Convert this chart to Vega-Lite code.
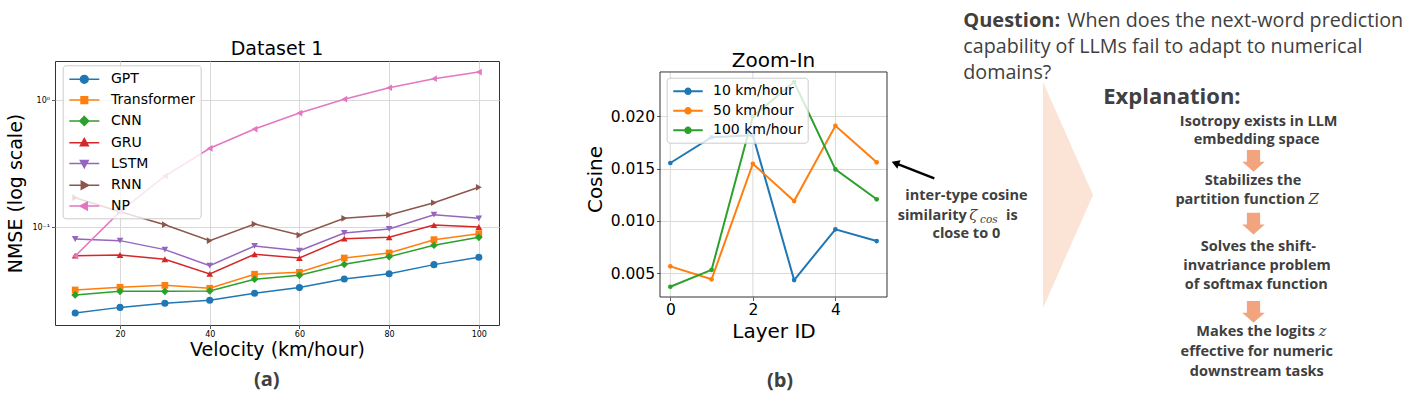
{
  "$schema": "https://vega.github.io/schema/vega-lite/v6.json",
  "padding": 0,
  "background": "white",
  "bounds": "flush",
  "spacing": 161,
  "resolve": {"scale": {"color": "independent"}, "legend": {"color": "independent"}},
  "config": {
    "font": "DejaVu Sans",
    "view": {"stroke": "#333333", "strokeWidth": 1},
    "axis": {"labelFont": "DejaVu Sans", "titleFont": "DejaVu Sans", "labelColor": "#000000", "titleColor": "#000000", "titleFontWeight": "normal", "tickColor": "#333333", "tickWidth": 0.8, "tickSize": 3.5, "domain": false, "gridColor": "#d9d9d9", "gridWidth": 1},
    "legend": {"labelFont": "DejaVu Sans", "labelColor": "#000000"},
    "title": {"font": "DejaVu Sans", "fontWeight": "normal", "color": "#000000"}
  },
  "hconcat": [
    {
      "width": 444,
      "height": 264,
      "title": {"text": "Dataset 1", "fontSize": 19, "frame": "group", "baseline": "alphabetic", "offset": -13},
      "data": {"values": [
        {"m": "GPT", "v": 10, "n": 0.0211}, {"m": "GPT", "v": 20, "n": 0.0234}, {"m": "GPT", "v": 30, "n": 0.0252}, {"m": "GPT", "v": 40, "n": 0.0266}, {"m": "GPT", "v": 50, "n": 0.0302}, {"m": "GPT", "v": 60, "n": 0.0335}, {"m": "GPT", "v": 70, "n": 0.0392}, {"m": "GPT", "v": 80, "n": 0.0431}, {"m": "GPT", "v": 90, "n": 0.0508}, {"m": "GPT", "v": 100, "n": 0.0581},
        {"m": "Transformer", "v": 10, "n": 0.0321}, {"m": "Transformer", "v": 20, "n": 0.0337}, {"m": "Transformer", "v": 30, "n": 0.0349}, {"m": "Transformer", "v": 40, "n": 0.0331}, {"m": "Transformer", "v": 50, "n": 0.0427}, {"m": "Transformer", "v": 60, "n": 0.0442}, {"m": "Transformer", "v": 70, "n": 0.0573}, {"m": "Transformer", "v": 80, "n": 0.0628}, {"m": "Transformer", "v": 90, "n": 0.0799}, {"m": "Transformer", "v": 100, "n": 0.0891},
        {"m": "CNN", "v": 10, "n": 0.0293}, {"m": "CNN", "v": 20, "n": 0.0313}, {"m": "CNN", "v": 30, "n": 0.0313}, {"m": "CNN", "v": 40, "n": 0.0315}, {"m": "CNN", "v": 50, "n": 0.039}, {"m": "CNN", "v": 60, "n": 0.0419}, {"m": "CNN", "v": 70, "n": 0.0511}, {"m": "CNN", "v": 80, "n": 0.0587}, {"m": "CNN", "v": 90, "n": 0.0722}, {"m": "CNN", "v": 100, "n": 0.0834},
        {"m": "GRU", "v": 10, "n": 0.0598}, {"m": "GRU", "v": 20, "n": 0.0605}, {"m": "GRU", "v": 30, "n": 0.056}, {"m": "GRU", "v": 40, "n": 0.0429}, {"m": "GRU", "v": 50, "n": 0.0613}, {"m": "GRU", "v": 60, "n": 0.0573}, {"m": "GRU", "v": 70, "n": 0.0813}, {"m": "GRU", "v": 80, "n": 0.0834}, {"m": "GRU", "v": 90, "n": 0.104}, {"m": "GRU", "v": 100, "n": 0.1005},
        {"m": "LSTM", "v": 10, "n": 0.0809}, {"m": "LSTM", "v": 20, "n": 0.0785}, {"m": "LSTM", "v": 30, "n": 0.0667}, {"m": "LSTM", "v": 40, "n": 0.0499}, {"m": "LSTM", "v": 50, "n": 0.0713}, {"m": "LSTM", "v": 60, "n": 0.0654}, {"m": "LSTM", "v": 70, "n": 0.0902}, {"m": "LSTM", "v": 80, "n": 0.097}, {"m": "LSTM", "v": 90, "n": 0.1257}, {"m": "LSTM", "v": 100, "n": 0.1177},
        {"m": "RNN", "v": 10, "n": 0.171}, {"m": "RNN", "v": 20, "n": 0.1327}, {"m": "RNN", "v": 30, "n": 0.1048}, {"m": "RNN", "v": 40, "n": 0.0785}, {"m": "RNN", "v": 50, "n": 0.106}, {"m": "RNN", "v": 60, "n": 0.0869}, {"m": "RNN", "v": 70, "n": 0.1177}, {"m": "RNN", "v": 80, "n": 0.125}, {"m": "RNN", "v": 90, "n": 0.156}, {"m": "RNN", "v": 100, "n": 0.2065},
        {"m": "NP", "v": 10, "n": 0.0594}, {"m": "NP", "v": 20, "n": 0.1327}, {"m": "NP", "v": 30, "n": 0.2535}, {"m": "NP", "v": 40, "n": 0.419}, {"m": "NP", "v": 50, "n": 0.594}, {"m": "NP", "v": 60, "n": 0.794}, {"m": "NP", "v": 70, "n": 1.02}, {"m": "NP", "v": 80, "n": 1.256}, {"m": "NP", "v": 90, "n": 1.48}, {"m": "NP", "v": 100, "n": 1.67}
      ]},
      "encoding": {
        "x": {"field": "v", "type": "quantitative", "scale": {"domain": [5.5, 104.5], "nice": false, "zero": false},
          "axis": {"values": [20, 40, 60, 80, 100], "title": "Velocity (km/hour)", "titleFontSize": 19, "labelFontSize": 8, "labelPadding": 2, "titlePadding": 2, "grid": true}},
        "y": {"field": "n", "type": "quantitative", "scale": {"type": "log", "domain": [0.017, 2.04], "nice": false},
          "axis": {"values": [0.1, 1], "labelExpr": "datum.value >= 1 ? '10⁰' : '10⁻¹'", "title": "NMSE (log scale)", "titleFontSize": 19, "labelFontSize": 8, "labelPadding": 2, "titlePadding": 6, "grid": true}},
        "color": {"field": "m", "type": "nominal",
          "scale": {"domain": ["GPT", "Transformer", "CNN", "GRU", "LSTM", "RNN", "NP"], "range": ["#1f77b4", "#ff7f0e", "#2ca02c", "#d62728", "#9467bd", "#8c564b", "#e377c2"]},
          "legend": {"orient": "none", "legendX": 7.7, "legendY": 4.3, "title": null, "fillColor": "rgba(255,255,255,0.8)", "strokeColor": "#cccccc", "cornerRadius": 3, "padding": 5, "labelFontSize": 14, "symbolSize": 256, "symbolOffset": 7.6, "symbolStrokeWidth": 1.5, "symbolOpacity": 1, "labelOffset": 17.7, "rowPadding": 4.8,
            "encode": {"symbols": {"update": {
              "shape": {"signal": "datum.value == 'GPT' ? 'M-1.875,0H1.875M0.49,0A0.49,0.49,0,1,1,-0.49,0A0.49,0.49,0,1,1,0.49,0Z' : datum.value == 'Transformer' ? 'M-1.875,0H1.875M-0.41,-0.41H0.41V0.41H-0.41Z' : datum.value == 'CNN' ? 'M-1.875,0H1.875M0,-0.56L0.56,0L0,0.56L-0.56,0Z' : datum.value == 'GRU' ? 'M-1.875,0H1.875M0,-0.525L0.49,0.375L-0.49,0.375Z' : datum.value == 'LSTM' ? 'M-1.875,0H1.875M0,0.525L0.49,-0.375L-0.49,-0.375Z' : datum.value == 'RNN' ? 'M-1.875,0H1.875M0.525,0L-0.375,0.49L-0.375,-0.49Z' : 'M-1.875,0H1.875M-0.525,0L0.375,0.49L0.375,-0.49Z'"},
              "fill": {"signal": "datum.value == 'GPT' ? '#1f77b4' : datum.value == 'Transformer' ? '#ff7f0e' : datum.value == 'CNN' ? '#2ca02c' : datum.value == 'GRU' ? '#d62728' : datum.value == 'LSTM' ? '#9467bd' : datum.value == 'RNN' ? '#8c564b' : '#e377c2'"},
              "stroke": {"signal": "datum.value == 'GPT' ? '#1f77b4' : datum.value == 'Transformer' ? '#ff7f0e' : datum.value == 'CNN' ? '#2ca02c' : datum.value == 'GRU' ? '#d62728' : datum.value == 'LSTM' ? '#9467bd' : datum.value == 'RNN' ? '#8c564b' : '#e377c2'"},
              "strokeWidth": {"value": 1.5},
              "opacity": {"value": 1}
            }}}}}
      },
      "layer": [
        {"mark": {"type": "line", "strokeWidth": 1.5}},
        {"transform": [{"filter": "datum.m == 'GPT'"}], "mark": {"type": "point", "shape": "circle", "filled": true, "opacity": 1, "size": 50}},
        {"transform": [{"filter": "datum.m == 'Transformer'"}], "mark": {"type": "point", "shape": "square", "filled": true, "opacity": 1, "size": 45}},
        {"transform": [{"filter": "datum.m == 'CNN'"}], "mark": {"type": "point", "shape": "diamond", "filled": true, "opacity": 1, "size": 60}},
        {"transform": [{"filter": "datum.m == 'GRU'"}], "mark": {"type": "point", "shape": "triangle-up", "filled": true, "opacity": 1, "size": 45}},
        {"transform": [{"filter": "datum.m == 'LSTM'"}], "mark": {"type": "point", "shape": "triangle-down", "filled": true, "opacity": 1, "size": 45}},
        {"transform": [{"filter": "datum.m == 'RNN'"}], "mark": {"type": "point", "shape": "triangle-right", "filled": true, "opacity": 1, "size": 45}},
        {"transform": [{"filter": "datum.m == 'NP'"}], "mark": {"type": "point", "shape": "triangle-left", "filled": true, "opacity": 1, "size": 45}}
      ]
    },
    {
      "width": 227,
      "height": 236,
      "view": {"stroke": null},
      "title": {"text": "Zoom-In", "fontSize": 20, "frame": "group", "baseline": "alphabetic", "offset": -26},
      "layer": [
        {
          "data": {"values": [{"l": 0}, {"l": 2}, {"l": 4}]},
          "mark": {"type": "rule", "color": "#d9d9d9", "strokeWidth": 1},
          "encoding": {
            "x": {"field": "l", "type": "quantitative", "title": "Layer ID"},
            "y": {"datum": 0.00273, "type": "quantitative", "title": "Cosine"},
            "y2": {"datum": 0.02424}
          }
        },
        {
          "data": {"values": [{}]},
          "mark": {"type": "rect", "filled": false, "stroke": "#333333", "strokeWidth": 1},
          "encoding": {
            "x": {"datum": -0.25, "type": "quantitative", "title": "Layer ID"},
            "x2": {"datum": 5.25},
            "y": {"datum": 0.00273, "type": "quantitative", "title": "Cosine"},
            "y2": {"datum": 0.02424}
          }
        },
        {
          "data": {"values": [
            {"s": "10 km/hour", "l": 0, "c": 0.01554}, {"s": "10 km/hour", "l": 1, "c": 0.0180}, {"s": "10 km/hour", "l": 2, "c": 0.0182}, {"s": "10 km/hour", "l": 3, "c": 0.00435}, {"s": "10 km/hour", "l": 4, "c": 0.0092}, {"s": "10 km/hour", "l": 5, "c": 0.00808},
            {"s": "50 km/hour", "l": 0, "c": 0.00566}, {"s": "50 km/hour", "l": 1, "c": 0.00442}, {"s": "50 km/hour", "l": 2, "c": 0.01547}, {"s": "50 km/hour", "l": 3, "c": 0.0119}, {"s": "50 km/hour", "l": 4, "c": 0.0191}, {"s": "50 km/hour", "l": 5, "c": 0.0156},
            {"s": "100 km/hour", "l": 0, "c": 0.00371}, {"s": "100 km/hour", "l": 1, "c": 0.00533}, {"s": "100 km/hour", "l": 2, "c": 0.0200}, {"s": "100 km/hour", "l": 3, "c": 0.02328}, {"s": "100 km/hour", "l": 4, "c": 0.01493}, {"s": "100 km/hour", "l": 5, "c": 0.01207}
          ]},
          "encoding": {
            "x": {"field": "l", "type": "quantitative", "title": "Layer ID", "scale": {"domain": [-0.25, 5.25], "nice": false, "zero": false},
              "axis": {"values": [0, 2, 4], "titleFontSize": 20, "labelFontSize": 15.5, "labelPadding": 2, "titlePadding": 3, "grid": false}},
            "y": {"field": "c", "type": "quantitative", "title": "Cosine", "scale": {"domain": [0.00273, 0.02529], "nice": false, "zero": false},
              "axis": {"values": [0.005, 0.01, 0.015, 0.02], "format": ".3f", "titleFontSize": 20, "labelFontSize": 15.5, "labelPadding": 2, "titlePadding": 5, "grid": true}},
            "color": {"field": "s", "type": "nominal",
              "scale": {"domain": ["10 km/hour", "50 km/hour", "100 km/hour"], "range": ["#1f77b4", "#ff7f0e", "#2ca02c"]},
              "legend": {"orient": "none", "legendX": 6.7, "legendY": 16.7, "title": null, "fillColor": "rgba(255,255,255,0.8)", "strokeColor": "#cccccc", "cornerRadius": 3, "padding": 4.6, "labelFontSize": 14, "symbolSize": 256, "symbolOffset": 7.7, "symbolStrokeWidth": 2, "symbolOpacity": 1, "labelOffset": 16, "rowPadding": 3.5,
                "encode": {"symbols": {"update": {
                  "shape": {"value": "M-1.84,0H1.84M0.34,0A0.34,0.34,0,1,1,-0.34,0A0.34,0.34,0,1,1,0.34,0Z"},
                  "fill": {"signal": "datum.value == '10 km/hour' ? '#1f77b4' : datum.value == '50 km/hour' ? '#ff7f0e' : '#2ca02c'"},
                  "stroke": {"signal": "datum.value == '10 km/hour' ? '#1f77b4' : datum.value == '50 km/hour' ? '#ff7f0e' : '#2ca02c'"},
                  "strokeWidth": {"value": 2},
                  "opacity": {"value": 1}
                }}}}}
          },
          "layer": [
            {"mark": {"type": "line", "strokeWidth": 2}},
            {"mark": {"type": "point", "filled": true, "opacity": 1, "size": 22}}
          ]
        }
      ]
    },
    {
      "width": 364,
      "height": 333,
      "view": {"stroke": null},
      "encoding": {
        "x": {"field": "x", "type": "quantitative", "scale": {"domain": [1048, 1412], "nice": false, "zero": false}, "axis": null},
        "y": {"field": "y", "type": "quantitative", "scale": {"domain": [61, 394], "nice": false, "zero": false, "reverse": true}, "axis": null}
      },
      "layer": [
        {
          "data": {"values": [{"x": 0, "y": 0, "x2": 1412, "y2": 394}]},
          "mark": {"type": "rect", "opacity": 0},
          "encoding": {"x2": {"field": "x2"}, "y2": {"field": "y2"}}
        },
        {
          "data": {"values": [{"x": 1043, "y": 82, "y2": 308}, {"x": 1093, "y": 195, "y2": 195}]},
          "mark": {"type": "area", "orient": "vertical", "color": "#fbe3d5"},
          "encoding": {"y2": {"field": "y2"}}
        },
        {
          "data": {"values": [{"i": 0, "x": 510.7, "y": 186.7, "y2": 201.7}, {"i": 1, "x": 548, "y": 186.7, "y2": 201.7}, {"i": 2, "x": 548, "y": 179.3, "y2": 209.3}, {"i": 3, "x": 563.3, "y": 194.5, "y2": 194.5}]},
          "mark": {"type": "area", "orient": "vertical", "color": "#808080"},
          "encoding": {"y2": {"field": "y2"}, "order": {"field": "i", "type": "quantitative"}}
        },
        {
          "data": {"values": [{"x": 1253.5, "y": 160.85}, {"x": 1253.5, "y": 223.55}, {"x": 1253.5, "y": 311.85}]},
          "mark": {"type": "point", "shape": "M-0.61,-1H0.61V0.08H1.04L0,1L-1.04,0.08H-0.61Z", "filled": true, "color": "#f2a47f", "opacity": 1, "size": 471, "strokeWidth": 0}
        },
        {
          "data": {"values": [{"x": 934.3, "y": 178.3, "x2": 895.3, "y2": 163.1}]},
          "mark": {"type": "rule", "color": "#000000", "strokeWidth": 2.5},
          "encoding": {"x2": {"field": "x2"}, "y2": {"field": "y2"}}
        },
        {
          "data": {"values": [{"x": 895.3, "y": 163.1}]},
          "mark": {"type": "point", "shape": "triangle-up", "filled": true, "color": "#000000", "opacity": 1, "size": 80, "angle": 291}
        },
        {
          "data": {"values": [
            {"x": 966.5, "y": 200, "t": "inter-type cosine"}, {"x": 966.3, "y": 238.3, "t": "close to 0"},
            {"x": 1258.7, "y": 125.7, "t": "Isotropy exists in LLM"}, {"x": 1256.7, "y": 144.3, "t": "embedding space"},
            {"x": 1253, "y": 185, "t": "Stabilizes the"},
            {"x": 1258.3, "y": 250.7, "t": "Solves the shift-"}, {"x": 1257, "y": 270, "t": "invatriance problem"}, {"x": 1256.3, "y": 289.3, "t": "of softmax function"},
            {"x": 1256.8, "y": 355.7, "t": "effective for numeric"}, {"x": 1256.8, "y": 375.7, "t": "downstream tasks"}
          ]},
          "mark": {"type": "text", "font": "Open Sans", "fontWeight": "bold", "fontSize": 14.5, "color": "#404040", "align": "center", "baseline": "alphabetic"},
          "encoding": {"text": {"field": "t"}}
        },
        {
          "data": {"values": [{"x": 966.7, "y": 220, "t": "similarity"}, {"x": 1305, "y": 204, "t": "partition function"}, {"x": 1315, "y": 336, "t": "Makes the logits"}]},
          "mark": {"type": "text", "font": "Open Sans", "fontWeight": "bold", "fontSize": 14.5, "color": "#404040", "align": "right", "baseline": "alphabetic"},
          "encoding": {"text": {"field": "t"}}
        },
        {
          "data": {"values": [{"x": 1006, "y": 220, "t": "is"}]},
          "mark": {"type": "text", "font": "Open Sans", "fontWeight": "bold", "fontSize": 14.5, "color": "#404040", "align": "left", "baseline": "alphabetic"},
          "encoding": {"text": {"field": "t"}}
        },
        {
          "data": {"values": [{"x": 969.3, "y": 220, "t": "ζ"}, {"x": 1308.5, "y": 204, "t": "Z"}, {"x": 1318.5, "y": 336, "t": "z"}]},
          "mark": {"type": "text", "font": "DejaVu Serif", "fontStyle": "italic", "fontSize": 15, "color": "#404040", "align": "left", "baseline": "alphabetic"},
          "encoding": {"text": {"field": "t"}}
        },
        {
          "data": {"values": [{"x": 980, "y": 223, "t": "cos"}]},
          "mark": {"type": "text", "font": "DejaVu Serif", "fontStyle": "italic", "fontSize": 10.5, "color": "#404040", "align": "left", "baseline": "alphabetic"},
          "encoding": {"text": {"field": "t"}}
        },
        {
          "data": {"values": [{"x": 963.3, "y": 27, "t": "Question:"}]},
          "mark": {"type": "text", "font": "Open Sans", "fontWeight": "bold", "fontSize": 20, "color": "#404040", "align": "left", "baseline": "alphabetic"},
          "encoding": {"text": {"field": "t"}}
        },
        {
          "data": {"values": [{"x": 1067.3, "y": 27, "t": "When does the next-word prediction"}, {"x": 963.3, "y": 53.3, "t": "capability of LLMs fail to adapt to numerical"}, {"x": 963.3, "y": 79, "t": "domains?"}]},
          "mark": {"type": "text", "font": "Open Sans", "fontSize": 19.7, "color": "#404040", "align": "left", "baseline": "alphabetic"},
          "encoding": {"text": {"field": "t"}}
        },
        {
          "data": {"values": [{"x": 1103.3, "y": 104, "t": "Explanation:"}]},
          "mark": {"type": "text", "font": "Open Sans", "fontWeight": "bold", "fontSize": 22, "color": "#404040", "align": "left", "baseline": "alphabetic"},
          "encoding": {"text": {"field": "t"}}
        },
        {
          "data": {"values": [{"x": 266.7, "y": 386, "t": "(a)"}, {"x": 780, "y": 387, "t": "(b)"}]},
          "mark": {"type": "text", "font": "Open Sans", "fontWeight": "bold", "fontSize": 20, "color": "#404040", "align": "center", "baseline": "alphabetic"},
          "encoding": {"text": {"field": "t"}}
        }
      ]
    }
  ]
}
